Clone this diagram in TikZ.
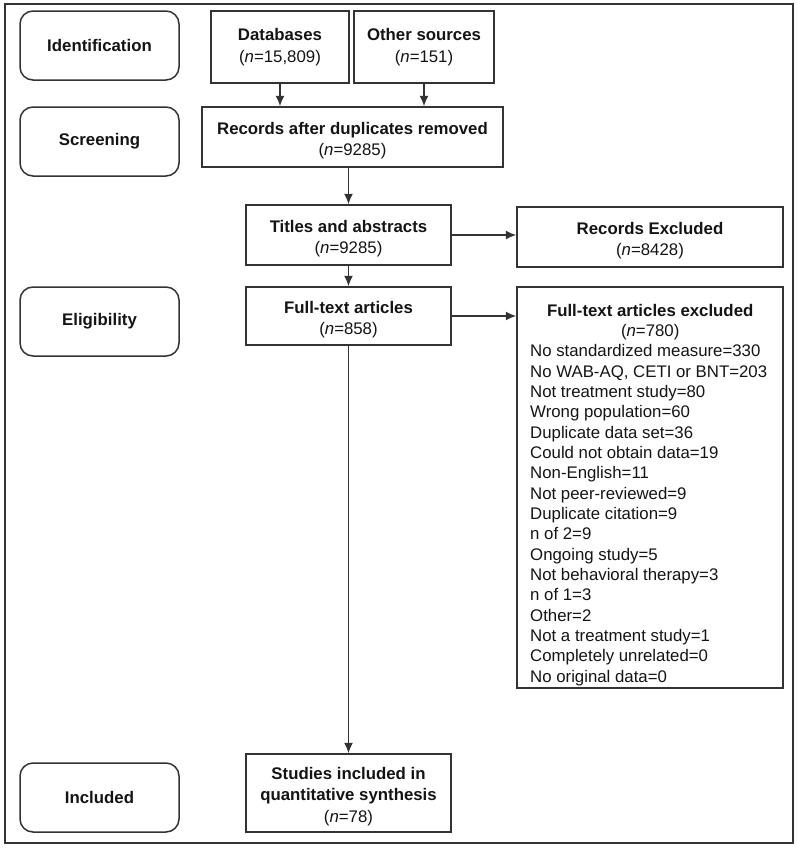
\documentclass[tikz,border=0pt]{standalone}
\usepackage{fontspec}
\setmainfont{Liberation Sans}
\usetikzlibrary{arrows.meta}
\definecolor{lc}{rgb}{0.2,0.2,0.2}
\definecolor{tc}{rgb}{0.08,0.08,0.08}
\newcommand\topstrut{\rule{0pt}{19pt}}
\begin{document}
\begin{tikzpicture}[x=1pt,y=-1pt,
  every node/.style={font=\fontsize{16.8}{21.5}\selectfont, inner sep=0pt, text=tc},
  box/.style={draw=lc, line width=1.5pt, align=center},
  stage/.style={box, rounded corners=13pt, minimum width=159pt, minimum height=69pt, font=\fontsize{16.8}{21.5}\selectfont\bfseries},
  arr/.style={draw=lc, line width=1.3pt, -{Latex[length=10.5pt,width=9pt]}}]
\useasboundingbox (0,0) rectangle (797,849);
\draw[lc, line width=1.5pt] (5,4) rectangle (793,843);

\node[stage] (ident)  at (99.5,45.5)  {Identification};
\node[stage] (screen) at (99.5,141.5) {Screening};
\node[stage] (elig)   at (99.5,321.5) {Eligibility};
\node[stage] (incl)   at (99.5,797.5) {Included};

\node[box, minimum width=138pt, minimum height=72pt] (db) at (280,47)
  {\textbf{Databases}\\(\textit{n}=15,809)};
\node[box, minimum width=140pt, minimum height=72pt] (other) at (424,47)
  {\textbf{Other sources}\\(\textit{n}=151)};
\node[box, minimum width=301pt, minimum height=60pt] (rec) at (352.5,137)
  {\topstrut\textbf{Records after duplicates removed}\\(\textit{n}=9285)};
\node[box, minimum width=205pt, minimum height=60pt] (titles) at (348.5,235)
  {\topstrut\textbf{Titles and abstracts}\\(\textit{n}=9285)};
\node[box, minimum width=266pt, minimum height=60pt] (recex) at (650,237)
  {\topstrut\textbf{Records Excluded}\\(\textit{n}=8428)};
\node[box, minimum width=205pt, minimum height=58pt] (full) at (348.5,316)
  {\topstrut\textbf{Full-text articles}\\(\textit{n}=858)};
\node[box, minimum width=266pt, minimum height=401pt] (fullex) at (650,487.5) {};
\node[anchor=base west] (fullextext) at (530,316)
  {\fontsize{16.8}{20.35}\selectfont\begin{minipage}[t]{240pt}\centering
   \textbf{Full-text articles excluded}\\(\textit{n}=780)\par\raggedright
   No standardized measure=330\\
   No WAB-AQ, CETI or BNT=203\\
   Not treatment study=80\\
   Wrong population=60\\
   Duplicate data set=36\\
   Could not obtain data=19\\
   Non-English=11\\
   Not peer-reviewed=9\\
   Duplicate citation=9\\
   n of 2=9\\
   Ongoing study=5\\
   Not behavioral therapy=3\\
   n of 1=3\\
   Other=2\\
   Not a treatment study=1\\
   Completely unrelated=0\\
   No original data=0\end{minipage}};
\node[box, minimum width=205pt, minimum height=78pt] (studies) at (348.5,793)
  {\topstrut\textbf{Studies included in}\\\textbf{quantitative synthesis}\\(\textit{n}=78)};

\draw[arr] (db.south) -- (db.south |- rec.north);
\draw[arr] (other.south) -- (other.south |- rec.north);
\draw[arr] (titles.north |- rec.south) -- (titles.north);
\draw[arr] (titles.south) -- (full.north);
\draw[arr] (titles.east) -- (titles.east -| recex.west);
\draw[arr] (full.east) -- (full.east -| fullex.west);
\draw[arr] (full.south) -- (studies.north);
\end{tikzpicture}
\end{document}
